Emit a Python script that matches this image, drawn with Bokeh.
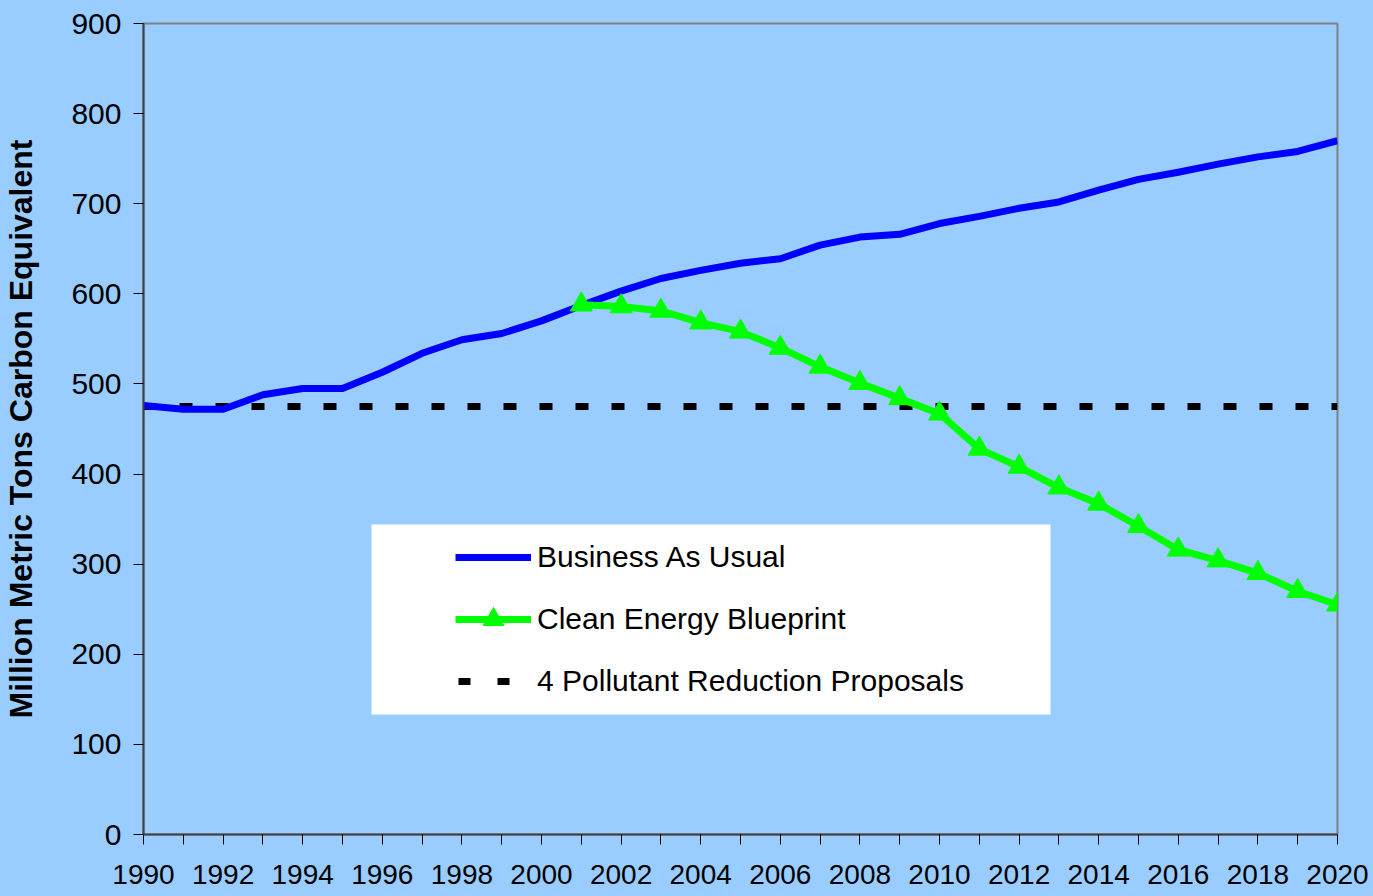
from bokeh.plotting import figure
from bokeh.models import Range1d, FixedTicker, Legend, LegendItem, BoxAnnotation
from bokeh.embed import file_html
from bokeh.resources import INLINE

# ---- data ----
years = [1990, 1991, 1992, 1993, 1994, 1995, 1996, 1997, 1998, 1999,
         2000, 2001, 2002, 2003, 2004, 2005, 2006, 2007, 2008, 2009,
         2010, 2011, 2012, 2013, 2014, 2015, 2016, 2017, 2018, 2019, 2020]
business_as_usual = [476, 472, 472, 488, 495, 495, 513, 534, 549, 556,
                     570, 587, 603, 617, 626, 634, 639, 654, 663, 666,
                     678, 686, 695, 702, 715, 727, 735, 744, 752, 758, 770]
clean_years = [2001, 2002, 2003, 2004, 2005, 2006, 2007, 2008, 2009, 2010,
               2011, 2012, 2013, 2014, 2015, 2016, 2017, 2018, 2019, 2020]
clean_energy_blueprint = [588, 586, 581, 568, 558, 540, 519, 501, 484, 467,
                          428, 408, 385, 367, 342, 316, 304, 290, 270, 255]
pollutant_years = [1990, 2020]
pollutant_proposals = [475, 475]
y_ticks = [0, 100, 200, 300, 400, 500, 600, 700, 800, 900]
x_label_years = [1990, 1992, 1994, 1996, 1998, 2000, 2002, 2004, 2006, 2008,
                 2010, 2012, 2014, 2016, 2018, 2020]

BG = "#99CCFF"
FONT = "Liberation Sans"

p = figure(width=1373, height=896, output_backend="svg", toolbar_location=None,
           x_range=Range1d(1990, 2020), y_range=Range1d(0, 900),
           min_border_left=143, min_border_right=36, min_border_top=23,
           min_border_bottom=62,
           background_fill_color=BG, border_fill_color=BG,
           outline_line_color="#808080", outline_line_width=2)
p.grid.visible = False

# x axis
xa = p.xaxis[0]
xa.ticker = FixedTicker(ticks=years, minor_ticks=[])
xa.major_label_overrides = {y: ("" if y not in x_label_years else str(y)) for y in years}
xa.major_tick_in = 0
xa.major_tick_out = 10
xa.major_tick_line_color = "black"
xa.axis_line_color = "#404040"
xa.axis_line_width = 2
xa.major_label_text_font = FONT
xa.major_label_text_font_size = "28px"
xa.major_label_text_color = "black"
xa.major_label_standoff = 20

# y axis
ya = p.yaxis[0]
ya.ticker = FixedTicker(ticks=y_ticks, minor_ticks=[])
ya.major_tick_in = 0
ya.major_tick_out = 10
ya.major_tick_line_color = "black"
ya.axis_line_color = "#404040"
ya.axis_line_width = 2
ya.major_label_text_font = FONT
ya.major_label_text_font_size = "30px"
ya.major_label_text_color = "black"
ya.major_label_standoff = 12
ya.axis_label = "Million Metric Tons Carbon Equivalent"
ya.axis_label_text_font = FONT
ya.axis_label_text_font_size = "32px"
ya.axis_label_text_font_style = "bold"
ya.axis_label_text_color = "black"
ya.axis_label_standoff = 29

# series
dash = p.line(pollutant_years, pollutant_proposals, line_color="black",
              line_width=7, line_dash="13 23", line_cap="butt")
blue = p.line(years, business_as_usual, line_color="#0000FF", line_width=7,
              line_join="round")
green_line = p.line(clean_years, clean_energy_blueprint, line_color="#00FF00",
                    line_width=7, line_join="round")
green_pts = p.scatter(clean_years, clean_energy_blueprint, marker="triangle",
                      size=22, fill_color="#00FF00", line_color="#00FF00")
# hidden twin of the dashed series, used only for the legend swatch
dash_swatch = p.line(pollutant_years, pollutant_proposals, line_color="black",
                     line_width=7, line_dash="12 27", line_dash_offset=-3,
                     line_cap="butt", visible=False)

# legend box + legend
box = BoxAnnotation(left=228, right=907, bottom=120, top=310,
                    left_units="screen", right_units="screen",
                    bottom_units="screen", top_units="screen",
                    fill_color="white", fill_alpha=1.0, line_alpha=0)
p.add_layout(box)

legend = Legend(items=[
    LegendItem(label="Business As Usual", renderers=[blue]),
    LegendItem(label="Clean Energy Blueprint", renderers=[green_line, green_pts]),
    LegendItem(label="4 Pollutant Reduction Proposals", renderers=[dash_swatch]),
], location=(312, 127), orientation="vertical",
   glyph_width=76, glyph_height=52, label_height=52, label_standoff=6,
   spacing=10, padding=0, margin=0, click_policy="none",
   inactive_fill_alpha=0.0,
   label_text_font=FONT, label_text_font_size="30px", label_text_color="black",
   border_line_alpha=0, background_fill_alpha=0)
p.add_layout(legend, "center")

html = file_html(p, INLINE)
html = html.replace("</head>", "<style>body{background:#99CCFF;}</style></head>", 1)
open("out.html", "w").write(html)
